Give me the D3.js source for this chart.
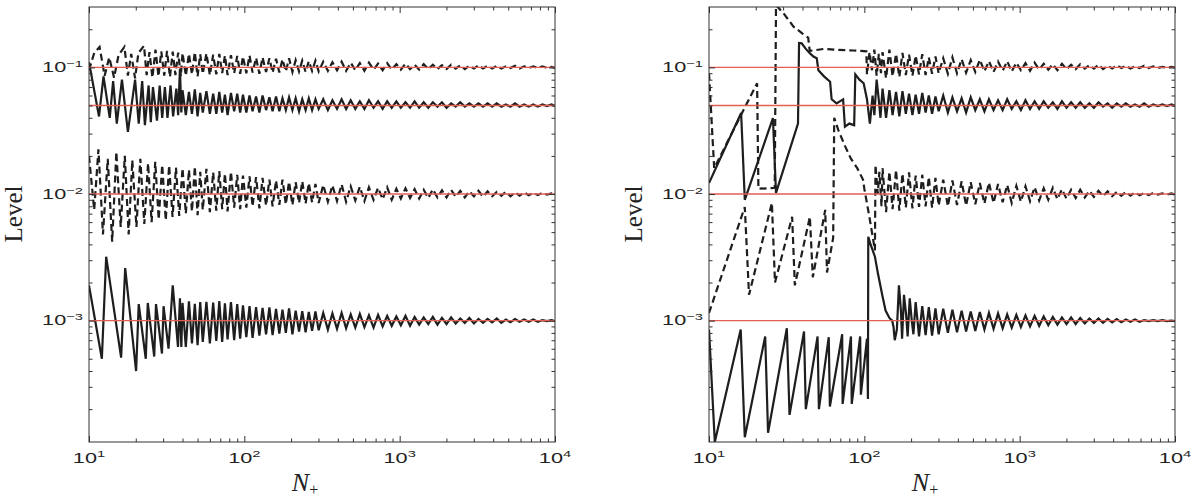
<!DOCTYPE html>
<html lang="en">
<head>
<meta charset="utf-8">
<style>
  body { margin: 0; background: #fff; }
  svg { display: block; }
  .box { fill: none; stroke: #333; stroke-width: 1; }
  .curve { fill: none; stroke: #1e1e1e; stroke-width: 2.2; }
  .dashed { stroke-dasharray: 7,4; }
  .ref { stroke: #e35d55; stroke-width: 1.4; }
  .num { font-family: "Liberation Sans", Arial, Helvetica, sans-serif; font-size: 14px; fill: #222; }
  .lab { font-family: "Liberation Serif", "Times New Roman", serif; fill: #222; }
</style>
<script src="https://cdn.jsdelivr.net/npm/d3@7"></script>
</head>
<body>
<script>
var width = 1200, height = 499;

var levels = [0.1, 0.05, 0.01, 0.001];
var xTicks = [10, 100, 1000, 10000];
var yTicks = [0.001, 0.01, 0.1];

// N values of the dense part of every curve (values below are aligned to the END of this list)
var gridN = [40,42,44,46,48,50,52,54,57,60,
  63,66,69,72,75,78,82,86,90,94,
  98,103,108,113,119,125,131,138,145,152,
  160,168,176,185,194,204,214,225,236,248,
  260,273,287,301,322,345,369,395,423,452,
  484,518,554,593,634,679,726,777,831,889,
  952,1018,1090,1166,1248,1335,1428,1528,1635,1750,
  1872,2003,2144,2294,2454,2626,2810,3007,3217,3442,
  3683,3941,4217,4512,4828,5166,5527,5914,6328,6771,
  7245,7752,8295,8876,9497,10000];

// ---- left panel ----
var leftDash10Early = [[10,.095],[10.8,.130],[11.7,.145],[12.6,.086],[13.5,.120],[14.5,.083],[15.5,.125],[16.9,.145],
  [17.8,.086],[18.7,.128],[19.8,.082],[20.8,.130],[22.6,.148],[23.5,.087],[24.5,.132],[25.6,.083],[26.8,.138],
  [28,.085],[29.2,.134],[30.5,.086],[31.8,.135],[33.2,.084],[34.6,.133],[36,.087],[37.5,.131],[39,.085]];
var leftDash10Dense = [.130,.086,.128,.088,.132,.085,.127,.089,.129,.087,
  .126,.088,.128,.090,.124,.087,.125,.090,.123,.089,
  .122,.090,.124,.091,.119,.089,.120,.092,.118,.091,
  .117,.091,.116,.093,.118,.092,.114,.093,.113,.092,
  .112,.094,.113,.093,.111,.094,.110,.095,.111,.094,
  .109,.095,.108,.094,.109,.096,.107,.095,.108,.096,
  .106,.096,.107,.097,.105,.096,.106,.097,.105,.097,
  .104,.097,.105,.098,.104,.097,.103,.098,.104,.098,
  .103,.098,.103,.098,.102,.099,.103,.098,.102,.099,
  .102,.099,.102,.099,.101,.099];

var leftSolid05Early = [[10,.110],[11.6,.041],[12.4,.085],[13.6,.040],[14.3,.078],[15.1,.036],[16.3,.080],[17.8,.031],
  [19.8,.080],[20.9,.036],[22.0,.078],[22.9,.035],[24.2,.072],[25.0,.037],[25.8,.070],[27.4,.038],[28.5,.072],
  [29.6,.040],[30.8,.070],[32,.040],[33.5,.072],[34.8,.041],[36.5,.068],[37.5,.042],[38.5,.098],[39.3,.044]];
var leftSolid05Dense = [.066,.042,.064,.043,.067,.041,.063,.044,.065,.043,
  .062,.043,.064,.044,.061,.042,.063,.045,.062,.044,
  .061,.044,.060,.045,.059,.044,.060,.046,.058,.045,
  .059,.045,.057,.046,.058,.046,.057,.045,.056,.046,
  .057,.046,.056,.047,.056,.046,.055,.047,.056,.047,
  .055,.047,.054,.047,.055,.048,.054,.047,.054,.048,
  .054,.048,.053,.048,.054,.048,.053,.048,.053,.049,
  .053,.048,.052,.049,.053,.049,.052,.049,.052,.049,
  .052,.049,.052,.049,.051,.049,.052,.049,.051,.049,
  .051,.049,.051,.0495,.051,.0495];

var leftDash01Early = [[10,.0200],[10.8,.0075],[11.5,.0225],[12.3,.0048],[13.2,.0190],[14.1,.0042],[15,.0215],[16,.0055],
  [17,.0200],[18,.0048],[19,.0185],[20.2,.0055],[21.4,.0190],[22.7,.0058],[24,.0175],[25.3,.0060],[26.7,.0180],
  [28.1,.0063],[29.6,.0170],[31.2,.0062],[32.8,.0168],[34.5,.0066],[36.3,.0162],[38.1,.0067]];
var leftDash01Dense = [.0160,.0070,.0155,.0073,.0165,.0068,.0150,.0075,.0158,.0072,
  .0148,.0074,.0152,.0076,.0145,.0073,.0150,.0078,.0142,.0076,
  .0140,.0078,.0138,.0080,.0136,.0077,.0134,.0081,.0130,.0080,
  .0128,.0082,.0130,.0083,.0125,.0082,.0124,.0085,.0126,.0084,
  .0122,.0086,.0120,.0085,.0118,.0087,.0117,.0088,.0119,.0087,
  .0115,.0089,.0114,.0088,.0113,.0090,.0112,.0091,.0113,.0090,
  .0110,.0092,.0111,.0093,.0109,.0092,.0108,.0093,.0109,.0094,
  .0107,.0094,.0108,.0095,.0106,.0094,.0105,.0096,.0106,.0095,
  .0105,.0096,.0104,.0097,.0104,.0096,.0103,.0097,.0103,.0098,
  .0102,.0098,.0102,.0099,.0101,.0099];

var leftSolid001Early = [[10,.0019],[12.1,.00050],[12.9,.0032],[16.1,.00051],[17.1,.0026],[20.1,.00040],[20.9,.00135],
  [23.2,.00050],[23.9,.00138],[26.3,.00052],[27,.00135],[29.5,.00055],[30.2,.00130],[32.5,.00060],[34.6,.0019],
  [37.4,.00062],[38.5,.00150],[39.3,.00062]];
var leftSolid001Dense = [.00138,.00062,.00142,.00066,.00136,.00064,.00140,.00068,.00141,.00066,
  .00139,.00069,.00143,.00068,.00137,.00071,.00140,.00070,.00135,.00072,
  .00132,.00074,.00130,.00073,.00128,.00076,.00126,.00078,.00127,.00077,
  .00124,.00079,.00122,.00080,.00125,.00078,.00120,.00082,.00119,.00081,
  .00117,.00083,.00118,.00084,.00115,.00085,.00114,.00086,.00115,.00087,
  .00112,.00088,.00113,.00089,.00110,.00088,.00111,.00090,.00109,.00091,
  .00108,.00092,.00109,.00091,.00107,.00093,.00106,.00094,.00107,.00093,
  .00105,.00094,.00106,.00095,.00104,.00096,.00105,.00095,.00103,.00096,
  .00103,.00097,.00104,.00096,.00102,.00097,.00103,.00098,.00102,.00098,
  .00102,.00098,.00101,.00099,.00101,.00099];

// ---- right panel ----
var rightDash10Early = [[10,.090],[10.8,.016],[20.4,.075],[20.8,.0110],[26.5,.0112],[27,.31],[30,.27],[35,.21],
  [40,.185],[43.5,.172],[44.5,.135],[55,.140],[65,.138],[75,.137],[85,.136],[95,.135],[103,.134],[104,.088],
  [108,.132],[112,.095],[116,.138],[120,.086],[124,.128],[128,.090]];
var rightDash10Dense = [.132,.082,.138,.085,.128,.084,.130,.087,.126,.086,
  .124,.088,.127,.087,.120,.089,.122,.090,.118,.089,
  .120,.090,.116,.091,.114,.092,.115,.093,.112,.092,
  .111,.094,.112,.093,.109,.095,.108,.094,.109,.096,
  .107,.096,.106,.095,.107,.097,.105,.097,.106,.098,
  .104,.098,.105,.097,.103,.098,.104,.099,.103,.098,
  .102,.099,.103,.099,.102,.099,.101,.0995,.101,.0995];

var rightSolid05Early = [[10,.0122],[16.1,.0436],[17,.0090],[25.8,.0398],[27,.0102],[37.4,.036],[38,.156],[39.5,.155],
  [42,.140],[44.7,.129],[47,.122],[49.4,.118],[50.6,.095],[55,.085],[60.2,.077],[61.6,.056],[66.3,.052],[73,.056],
  [75,.034],[80,.036],[86,.035],[87.5,.088],[93,.080],[99,.075],[104,.056],[108.6,.036],[113,.060],[116,.042],
  [120,.080],[124,.055],[127,.040]];
var rightSolid05Dense = [.068,.040,.066,.042,.064,.041,.065,.043,.062,.042,
  .061,.043,.063,.044,.060,.043,.059,.045,.060,.044,
  .058,.045,.057,.044,.058,.046,.056,.045,.056,.046,
  .055,.046,.056,.047,.054,.046,.055,.047,.054,.047,
  .054,.048,.053,.047,.054,.048,.053,.048,.053,.048,
  .052,.048,.053,.049,.052,.048,.052,.049,.052,.049,
  .051,.049,.052,.049,.051,.0495,.051,.0495,.051,.0495];

var rightDash01Early = [[10,.00115],[17,.0079],[18.1,.0016],[25.4,.0085],[26.6,.0020],[34.3,.0066],[35.7,.0019],
  [44.6,.0066],[46.6,.0022],[56,.0075],[57.5,.0024],[63,.0045],[64,.040],[68,.032],[75,.024],[82,.019],[90,.016],
  [98,.013],[100,.0110],[108,.0065],[117,.0036],[118,.0170],[122,.0100],[125,.0150],[129,.0080]];
var rightDash01Dense = [.0160,.0072,.0150,.0076,.0155,.0074,.0145,.0078,.0148,.0077,
  .0140,.0079,.0142,.0080,.0136,.0078,.0134,.0081,.0130,.0080,
  .0128,.0082,.0126,.0081,.0124,.0083,.0122,.0084,.0123,.0085,
  .0120,.0086,.0118,.0085,.0116,.0087,.0115,.0088,.0113,.0089,
  .0111,.0090,.0112,.0091,.0109,.0092,.0108,.0093,.0108,.0094,
  .0106,.0095,.0106,.0096,.0105,.0096,.0104,.0097,.0104,.0097,
  .0103,.0098,.0102,.0098,.0102,.0099,.0101,.0099,.0101,.0099];

var rightSolid001Early = [[10,.00085],[10.9,.00011],[16,.00085],[17,.00012],[23,.00075],[24,.00013],[31.7,.00087],
  [33,.00018],[40.9,.00082],[42,.00020],[50,.00075],[51,.00020],[59,.00074],[60,.00021],[72,.00078],[72.5,.00022],
  [82,.00075],[83,.00022],[94,.00075],[95,.00026],[104,.00072],[105.5,.00024],[106,.0046],[109,.0041],[117,.0032],
  [122,.0024],[131,.00155],[137,.0012],[145,.00105],[151,.0010],[154,.00090],[157,.00070],[162,.00085],[167,.0019],
  [172,.0012],[175,.00072],[180,.0016],[186,.0011],[190,.00075],[196,.0015],[202,.0010],[207,.00078],[214,.0014]];
var rightSolid001Dense = [.00150,.00068,.00145,.00070,.00140,.00072,.00138,.00071,.00135,.00074,
  .00132,.00075,.00130,.00077,.00128,.00076,.00125,.00078,.00124,.00080,
  .00122,.00081,.00120,.00082,.00118,.00083,.00117,.00085,.00115,.00086,
  .00114,.00087,.00112,.00088,.00111,.00089,.00110,.00090,.00109,.00091,
  .00108,.00092,.00107,.00093,.00106,.00094,.00106,.00094,.00105,.00095,
  .00104,.00096,.00104,.00096,.00103,.00097,.00103,.00097,.00102,.00098,
  .00102,.00098,.00101,.00099,.00101,.00099,.00101,.00099,.00100,.00099];

// early sawtooth followed by the dense part
function buildCurve(early, dense) {
  var last = early[early.length - 1][0];
  var n0 = gridN.length - dense.length;
  var tail = dense.map(function(v, i) { return [gridN[n0 + i], v]; })
                  .filter(function(p) { return p[0] > last; });
  return early.concat(tail);
}

var leftCurves = [
  {dashed: true,  points: buildCurve(leftDash10Early, leftDash10Dense)},
  {dashed: false, points: buildCurve(leftSolid05Early, leftSolid05Dense)},
  {dashed: true,  points: buildCurve(leftDash01Early, leftDash01Dense)},
  {dashed: false, points: buildCurve(leftSolid001Early, leftSolid001Dense)}
];
var rightCurves = [
  {dashed: true,  points: buildCurve(rightDash10Early, rightDash10Dense)},
  {dashed: false, points: buildCurve(rightSolid05Early, rightSolid05Dense)},
  {dashed: true,  points: buildCurve(rightDash01Early, rightDash01Dense)},
  {dashed: false, points: buildCurve(rightSolid001Early, rightSolid001Dense)}
];

var svg = d3.select("body").append("svg")
  .attr("width", width)
  .attr("height", height);

var plotTop = 7, plotBottom = 442;

function supText(d) {
  return String(Math.round(Math.log10(d))).replace("-", "\u2212");
}

function drawPanel(x0, x1, curves, id) {
  var x = d3.scaleLog().domain([10, 1e4]).range([x0, x1]);
  var y = d3.scaleLog().domain([1.1e-4, 0.3]).range([plotBottom, plotTop]);

  var g = svg.append("g");
  g.append("clipPath").attr("id", id).append("rect")
    .attr("x", x0).attr("y", plotTop).attr("width", x1 - x0).attr("height", plotBottom - plotTop);

  var line = d3.line().x(function(d) { return x(d[0]); }).y(function(d) { return y(d[1]); });
  var plot = g.append("g").attr("clip-path", "url(#" + id + ")");

  plot.selectAll("path.curve").data(curves).enter().append("path")
    .attr("class", function(d) { return d.dashed ? "curve dashed" : "curve"; })
    .attr("d", function(d) { return line(d.points); });

  plot.selectAll("line.ref").data(levels).enter().append("line")
    .attr("class", "ref")
    .attr("x1", x0).attr("x2", x1)
    .attr("y1", function(d) { return y(d); }).attr("y2", function(d) { return y(d); });

  // minor ticks
  var xMinor = [], yMinor = [];
  [10, 100, 1000].forEach(function(dec) { for (var k = 2; k <= 9; k++) xMinor.push(k * dec); });
  [1e-4, 1e-3, 1e-2, 1e-1].forEach(function(dec) {
    for (var k = 2; k <= 9; k++) { var v = k * dec; if (v >= 1.1e-4 && v <= 0.3) yMinor.push(v); }
  });

  function axis(gen, tr, vals, size) {
    g.append("g").attr("transform", tr).attr("color", "#333")
      .call(gen.tickValues(vals).tickSize(size).tickFormat(""))
      .call(function(a) { a.select(".domain").remove(); });
  }
  axis(d3.axisBottom(x), "translate(0," + plotBottom + ")", xTicks, -6);
  axis(d3.axisBottom(x), "translate(0," + plotBottom + ")", xMinor, -3.5);
  axis(d3.axisTop(x), "translate(0," + plotTop + ")", xTicks, -6);
  axis(d3.axisTop(x), "translate(0," + plotTop + ")", xMinor, -3.5);
  axis(d3.axisLeft(y), "translate(" + x0 + ",0)", yTicks, -6);
  axis(d3.axisLeft(y), "translate(" + x0 + ",0)", yMinor, -3.5);
  axis(d3.axisRight(y), "translate(" + x1 + ",0)", yTicks, -6);
  axis(d3.axisRight(y), "translate(" + x1 + ",0)", yMinor, -3.5);

  g.append("rect").attr("class", "box")
    .attr("x", x0).attr("y", plotTop).attr("width", x1 - x0).attr("height", plotBottom - plotTop);

  // tick labels 10^k, drawn wide like the original figure
  var xl = g.selectAll("g.xlab").data(xTicks).enter().append("g")
    .attr("transform", function(d) { return "translate(" + x(d) + ",463) scale(1.55,1)"; })
    .append("text").attr("class", "num").attr("text-anchor", "middle");
  xl.append("tspan").text("10");
  xl.append("tspan").attr("font-size", "9.5px").attr("dy", -6).text(supText);

  var yl = g.selectAll("g.ylab").data(yTicks).enter().append("g")
    .attr("transform", function(d) { return "translate(" + (x0 - 6) + "," + (y(d) + 4.8) + ") scale(1.55,1)"; })
    .append("text").attr("class", "num").attr("text-anchor", "end");
  yl.append("tspan").text("10");
  yl.append("tspan").attr("font-size", "9.5px").attr("dy", -5).text(supText);

  g.append("text").attr("class", "lab").attr("font-size", 25).attr("text-anchor", "middle")
    .attr("transform", "translate(" + (x0 - 67) + ",214) rotate(-90)")
    .text("Level");

  var xt = g.append("text").attr("class", "lab").attr("text-anchor", "middle")
    .attr("x", (x0 + x1) / 2 - 17).attr("y", 491);
  xt.append("tspan").attr("font-size", 26).attr("font-style", "italic").text("N");
  xt.append("tspan").attr("font-size", 16).attr("dy", 4).text("+");
}

drawPanel(89, 555, leftCurves, "clipL");
drawPanel(709, 1175, rightCurves, "clipR");
</script>
</body>
</html>
